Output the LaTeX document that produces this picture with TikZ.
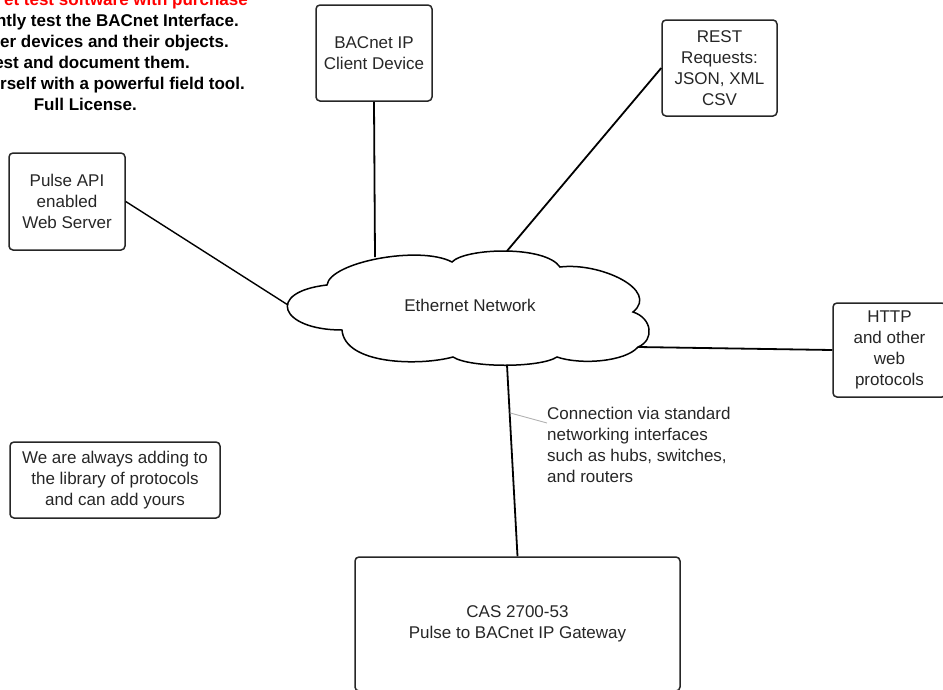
\documentclass[tikz,border=0pt]{standalone}
\usepackage{fontspec}
\setmainfont{Liberation Sans}
\usetikzlibrary{calc}
\begin{document}
\begin{tikzpicture}[x=1pt,y=-1pt,
  box/.style={draw=black!85, line width=1.5pt, rounded corners=4pt, align=center,
    inner sep=0pt, text=black!85, font=\fontsize{17}{21}\selectfont},
  link/.style={draw=black, line width=1.8pt},
  cloudline/.style={draw=black, line width=1.5pt, fill=white},
  boldline/.style={anchor=base east, inner sep=0pt, font=\fontsize{17}{21}\selectfont\bfseries, text=black},
  note/.style={inner sep=0pt, align=left, text=black!85, font=\fontsize{17}{21}\selectfont},
  leader/.style={draw=black!30, line width=0.9pt}
]
\useasboundingbox (0,0) rectangle (943,689);
\clip (0,0) rectangle (943,689);

% top-left promotional text (cut by the picture's left edge)
\node[boldline, text=red] (t1) at (248,5) {et test software with purchase};
\node[boldline] (t2) at (239,26) {ntly test the BACnet Interface.};
\node[boldline] (t3) at (229,47) {er devices and their objects.};
\node[boldline] (t4) at (190,68) {est and document them.};
\node[boldline] (t5) at (245,89) {rself with a powerful field tool.};
\node[boldline] (t6) at (137,110) {Full License.};

% boxes
\node[box, minimum width=116pt, minimum height=96pt] (bacnet) at (374,53) {BACnet IP\\Client Device};
\node[box, minimum width=115pt, minimum height=96pt] (rest) at (719.5,68) {REST\\Requests:\\JSON, XML\\CSV};
\node[box, minimum width=116pt, minimum height=97pt] (pulse) at (67,201.5) {Pulse API\\enabled\\Web Server};
\node[box, minimum width=113pt, minimum height=94pt] (http) at (889.5,350) {HTTP\\and other\\web\\protocols};
\node[box, minimum width=210pt, minimum height=76pt] (library) at (115,480) {We are always adding to\\the library of protocols\\and can add yours};
\node[box, minimum width=325pt, minimum height=134pt] (gateway) at (517.5,624) {CAS 2700-53\\Pulse to BACnet IP Gateway};

% cloud
\path[cloudline] (342,330)
  .. controls (280,330) and (265,292) .. (327,285)
  .. controls (330,262) and (420,245) .. (452,262)
  .. controls (465,248) and (545,245) .. (560,267)
  .. controls (600,262) and (660,290) .. (633,312)
  .. controls (652,318) and (655,340) .. (638,347)
  .. controls (625,362) and (580,365) .. (557,357)
  .. controls (540,368) and (470,368) .. (453,357)
  .. controls (420,366) and (345,365) .. (342,330) -- cycle;
\node[inner sep=0pt, text=black!85, font=\fontsize{17}{21}\selectfont] (net) at (470,305) {Ethernet Network};

% attachment points on the cloud
\coordinate (cA) at (375,257);
\coordinate (cB) at (507,251);
\coordinate (cC) at (288,305);
\coordinate (cD) at (638,347);
\coordinate (cE) at (507,365);

% connectors
\draw[link] (bacnet.south) -- (cA);
\draw[link] (rest.west) -- (cB);
\draw[link, line width=1.4pt] (pulse.east) -- (cC);
\draw[link] (http.west) -- (cD);
\draw[link] (gateway.north) -- (cE);

% note and its leader
\node[note, anchor=west] (conn) at (547,445) {Connection via standard\\networking interfaces\\such as hubs, switches,\\and routers};
\coordinate (lead) at ($(cE)!0.25!(gateway.north)$);
\coordinate (leadend) at (547,423);
\draw[leader] (lead) -- (leadend);
\end{tikzpicture}
\end{document}
